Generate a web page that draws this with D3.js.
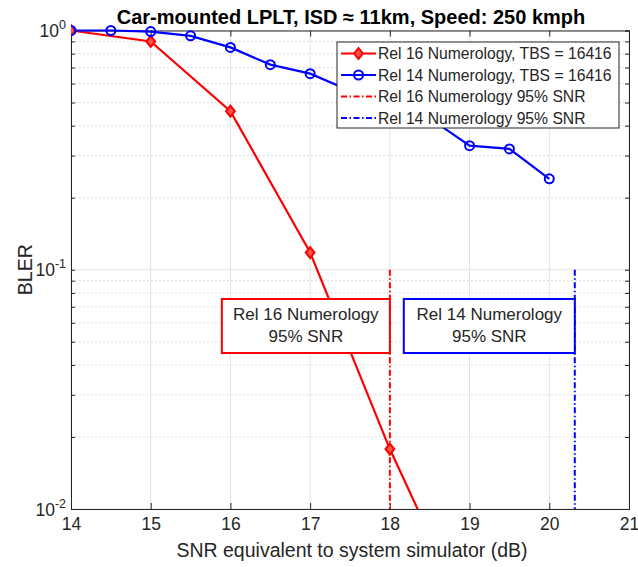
<!DOCTYPE html>
<html><head><meta charset="utf-8">
<script src="https://cdn.jsdelivr.net/npm/d3@7"></script>
<style>body{margin:0;background:#fff}svg{font-family:"Liberation Sans",Arial,sans-serif}</style>
</head><body><svg id="c" width="638" height="567"></svg>
<script>
const title = "Car-mounted LPLT, ISD \u2248 11km, Speed: 250 kmph";
const xLabel = "SNR equivalent to system simulator (dB)";
const yLabel = "BLER";
const xTicks = [14,15,16,17,18,19,20,21];
const yDecades = [0,-1,-2];
const rel16X = [14,15,16,17,18,19];
const rel16Y = [1.0,0.9,0.46,0.118,0.0178,0.0034];
const rel14X = [14,14.5,15,15.5,16,16.5,17,17.5,18,18.5,19,19.5,20];
const rel14Y = [1.0,1.0,0.99,0.95,0.85,0.72,0.66,0.56,0.49,0.43,0.33,0.32,0.24];
const snr95Rel16 = 18;
const snr95Rel14 = 20.32;
const vLineRange = [0.1,0.01];
const legendLabels = ["Rel 16 Numerology, TBS = 16416","Rel 14 Numerology, TBS = 16416","Rel 16 Numerology 95% SNR","Rel 14 Numerology 95% SNR"];
const boxLabels = [["Rel 16 Numerology","95% SNR"],["Rel 14 Numerology","95% SNR"]];

const RED="#ff0000", BLUE="#0000ff", INK="#262626";
const L=71, R=629, T=30.5, B=509;
const svg=d3.select("#c");
const x=d3.scaleLinear().domain([14,21]).range([L,R]);
const y=d3.scaleLog().domain([0.01,1]).range([B,T]);

// grid
const g=svg.append("g");
const minors=[];
for(const d of [-2,-1]) for(let k=2;k<=9;k++) minors.push(k*Math.pow(10,d));
const majors=yDecades.map(d=>Math.pow(10,d));
g.selectAll(".mn").data(minors).join("line").attr("x1",L).attr("x2",R)
 .attr("y1",d=>y(d)).attr("y2",d=>y(d)).attr("stroke","#d0d0d0").attr("stroke-width",1).attr("stroke-dasharray","1.5,2.5");
g.selectAll(".mj").data(majors).join("line").attr("x1",L).attr("x2",R)
 .attr("y1",d=>y(d)).attr("y2",d=>y(d)).attr("stroke","#e3e3e3");
g.selectAll(".vx").data(xTicks).join("line").attr("x1",d=>x(d)).attr("x2",d=>x(d))
 .attr("y1",T).attr("y2",B).attr("stroke","#e3e3e3");

// axes
const styleAxis=s=>{s.select(".domain").attr("stroke",INK);s.selectAll(".tick line").attr("stroke",INK);};
svg.append("g").attr("transform",`translate(0,${B})`).call(d3.axisBottom(x).tickValues(xTicks).tickSize(-6).tickFormat(d3.format("d"))).call(styleAxis).call(s=>{
  s.selectAll("text").attr("font-size",17.5).attr("fill",INK).attr("y",0).attr("dy","1.2em").attr("font-family","Liberation Sans, Arial");
});
svg.append("g").attr("transform",`translate(0,${T})`).call(d3.axisTop(x).tickValues(xTicks).tickSize(-6).tickFormat("")).call(styleAxis);
const yTickVals=minors.concat(majors);
svg.append("g").attr("transform",`translate(${L},0)`).call(d3.axisLeft(y).tickValues(yTickVals).tickSize(-4).tickFormat("")).call(styleAxis);
svg.append("g").attr("transform",`translate(${R},0)`).call(d3.axisRight(y).tickValues(yTickVals).tickSize(-4).tickFormat("")).call(styleAxis);
// y tick labels 10^n
const yl=svg.append("g").attr("fill",INK).attr("font-size",17.5);
yDecades.forEach(d=>{
  const t=yl.append("text").attr("x",L-5).attr("y",y(Math.pow(10,d))+6.5).attr("text-anchor","end");
  t.append("tspan").text("10");
  t.append("tspan").attr("dy",-8).attr("font-size",12.5).text(String(d));
});

// clip
svg.append("clipPath").attr("id","cp").append("rect").attr("x",L).attr("y",T-8).attr("width",R-L).attr("height",B-T+8);
const pg=svg.append("g").attr("clip-path","url(#cp)");

// vertical 95% lines
[[snr95Rel16,RED],[snr95Rel14,BLUE]].forEach(([v,c])=>{
  pg.append("line").attr("x1",x(v)).attr("x2",x(v)).attr("y1",y(vLineRange[0])).attr("y2",y(vLineRange[1]))
   .attr("stroke",c).attr("stroke-width",2).attr("stroke-dasharray","6,2.5,1.5,2.5");
});

const line=d3.line().x(d=>x(d[0])).y(d=>y(d[1]));
const r16=rel16X.map((v,i)=>[v,rel16Y[i]]);
const r14=rel14X.map((v,i)=>[v,rel14Y[i]]);
pg.append("path").attr("d",line(r16)).attr("fill","none").attr("stroke",RED).attr("stroke-width",2.2);
pg.append("path").attr("d",line(r14)).attr("fill","none").attr("stroke",BLUE).attr("stroke-width",2.2);
const diamond=(cx,cy,s)=>`M${cx},${cy-s}L${cx+s*0.8},${cy}L${cx},${cy+s}L${cx-s*0.8},${cy}Z`;
pg.selectAll(".dm").data(r16.filter(d=>d[1]>=0.01)).join("path").attr("d",d=>diamond(x(d[0]),y(d[1]),5.5))
 .attr("fill","#ff5050").attr("stroke",RED).attr("stroke-width",2);
pg.selectAll(".ci").data(r14).join("circle").attr("cx",d=>x(d[0])).attr("cy",d=>y(d[1])).attr("r",4.5)
 .attr("fill","none").attr("stroke",BLUE).attr("stroke-width",2);

// annotation boxes
const boxes=[{x0:x(snr95Rel16)-168,x1:x(snr95Rel16),c:RED,t:boxLabels[0]},{x0:x(snr95Rel14)-171,x1:x(snr95Rel14),c:BLUE,t:boxLabels[1]}];
boxes.forEach(b=>{
  svg.append("rect").attr("x",b.x0).attr("y",299).attr("width",b.x1-b.x0).attr("height",54)
   .attr("fill","#fff").attr("stroke",b.c).attr("stroke-width",2);
  b.t.forEach((s,i)=>svg.append("text").attr("x",(b.x0+b.x1)/2).attr("y",320+i*22).attr("text-anchor","middle")
   .attr("font-size",17).attr("fill",INK).text(s));
});

// legend
const lg=svg.append("g");
lg.append("rect").attr("x",337).attr("y",42).attr("width",282).attr("height",86).attr("fill","#fff").attr("stroke",INK).attr("stroke-width",1);
const styles=[{c:RED,m:"d",dash:null},{c:BLUE,m:"o",dash:null},{c:RED,m:null,dash:"6,2.5,1.5,2.5"},{c:BLUE,m:null,dash:"6,2.5,1.5,2.5"}];
legendLabels.forEach((s,i)=>{
  const yy=53.5+i*21.5, st=styles[i];
  lg.append("line").attr("x1",341).attr("x2",376).attr("y1",yy).attr("y2",yy).attr("stroke",st.c).attr("stroke-width",2.2)
    .attr("stroke-dasharray",st.dash);
  if(st.m==="d") lg.append("path").attr("d",diamond(358.5,yy,5.5)).attr("fill","#ff5050").attr("stroke",RED).attr("stroke-width",2);
  if(st.m==="o") lg.append("circle").attr("cx",358.5).attr("cy",yy).attr("r",4.5).attr("fill","none").attr("stroke",BLUE).attr("stroke-width",2);
  lg.append("text").attr("x",378).attr("y",yy+5.5).attr("font-size",15.7).attr("fill",INK).text(s);
});

// titles
svg.append("text").attr("x",351).attr("y",24).attr("text-anchor","middle").attr("font-weight","bold").attr("font-size",20).attr("fill","#000").text(title);
svg.append("text").attr("x",352).attr("y",557).attr("text-anchor","middle").attr("font-size",19.5).attr("fill",INK).text(xLabel);
svg.append("text").attr("transform",`translate(32,${(T+B)/2}) rotate(-90)`).attr("text-anchor","middle").attr("font-size",19.5).attr("fill",INK).text(yLabel);
</script></body></html>
